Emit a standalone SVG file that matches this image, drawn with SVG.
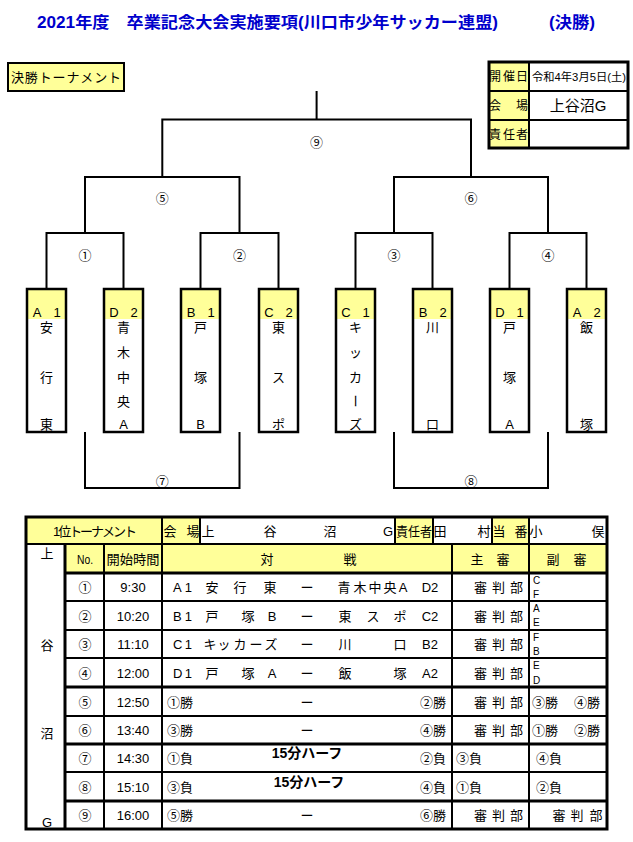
<svg xmlns="http://www.w3.org/2000/svg" width="633" height="842" viewBox="0 0 633 842">
<style>
text{font-family:"Liberation Sans","Noto Sans CJK JP",sans-serif;font-size:13px;fill:#000}
.t{font-size:16px;font-weight:bold;fill:#0000cc}
.c{text-anchor:middle}
.e{text-anchor:end}
.y{fill:#ffff99}
.ln{stroke:#000;stroke-width:2;fill:none}
.bx{fill:none;stroke:#000;stroke-width:2.5}
.s{font-size:11px}
.l{font-size:10px}
.i{font-size:12px}
.b{font-weight:bold;font-size:14px}
.th{stroke:#000;stroke-width:3;fill:none}
</style>
<rect x="0" y="0" width="633" height="842" fill="#fff"/>

<g id="title">
<text class="t" x="37" y="28" textLength="461" lengthAdjust="spacingAndGlyphs">2021年度　卒業記念大会実施要項(川口市少年サッカー連盟)</text>
<text class="t" x="549" y="28" textLength="46" lengthAdjust="spacingAndGlyphs">(決勝)</text>
</g>

<g id="final-label">
<rect x="8" y="63" width="116" height="28" class="y" stroke="#000" stroke-width="2"/>
<text x="11" y="82" textLength="110" lengthAdjust="spacing">決勝トーナメント</text>
</g>

<g id="info-box">
<rect x="489" y="62" width="40" height="86" class="y"/>
<rect x="489" y="62" width="139" height="86" class="th"/>
<line x1="529" y1="62" x2="529" y2="148" class="ln"/>
<line x1="489" y1="91" x2="628" y2="91" class="ln"/>
<line x1="489" y1="120" x2="628" y2="120" class="ln"/>
<text class="i c" x="495" y="81">開</text><text class="i c" x="509" y="81">催</text><text class="i c" x="522" y="81">日</text>
<text class="i c" x="495" y="110">会</text><text class="i c" x="522" y="110">場</text>
<text class="i c" x="495" y="139">責</text><text class="i c" x="509" y="139">任</text><text class="i c" x="522" y="139">者</text>
<text class="s" x="532" y="81" textLength="94" lengthAdjust="spacingAndGlyphs">令和4年3月5日(土)</text>
<text class="c" x="578" y="111" style="font-size:15px">上谷沼G</text>
</g>

<g id="connectors">
<path class="ln" d="M316.6 91V119.5M162.3 177V119.5H471V177M85 233V177H239.5V233M394 233V177H548V233M46.5 290V233H123.5V290M200.5 290V233H278.5V290M355.5 290V233H432.5V290M509.5 290V233H586.5V290M85 432V488H239.5V432M394 432V488H548V432"/>
<text class="c" x="316.6" y="147">⑨</text>
<text class="c" x="162.3" y="203">⑤</text>
<text class="c" x="471" y="203">⑥</text>
<text class="c" x="85" y="260">①</text>
<text class="c" x="239.5" y="260">②</text>
<text class="c" x="394" y="260">③</text>
<text class="c" x="548" y="260">④</text>
<text class="c" x="162.3" y="486">⑦</text>
<text class="c" x="471" y="486">⑧</text>
</g>

<g id="team-A1">
<rect x="27" y="289" width="39" height="30" class="y"/><rect x="27" y="289" width="39" height="143" class="bx"/>
<text class="c" x="37" y="317">A</text><text class="c" x="57" y="317">1</text>
<text class="c" x="46.5" y="332">安</text><text class="c" x="46.5" y="382">行</text><text class="c" x="46.5" y="429">東</text>
</g>
<g id="team-D2">
<rect x="104" y="289" width="39" height="30" class="y"/><rect x="104" y="289" width="39" height="143" class="bx"/>
<text class="c" x="114" y="317">D</text><text class="c" x="134" y="317">2</text>
<text class="c" x="123.5" y="332">青</text><text class="c" x="123.5" y="357">木</text><text class="c" x="123.5" y="382">中</text><text class="c" x="123.5" y="406">央</text><text class="c" x="123.5" y="429">A</text>
</g>
<g id="team-B1">
<rect x="181" y="289" width="39" height="30" class="y"/><rect x="181" y="289" width="39" height="143" class="bx"/>
<text class="c" x="191" y="317">B</text><text class="c" x="211" y="317">1</text>
<text class="c" x="200.5" y="332">戸</text><text class="c" x="200.5" y="382">塚</text><text class="c" x="200.5" y="429">B</text>
</g>
<g id="team-C2">
<rect x="259" y="289" width="39" height="30" class="y"/><rect x="259" y="289" width="39" height="143" class="bx"/>
<text class="c" x="269" y="317">C</text><text class="c" x="289" y="317">2</text>
<text class="c" x="278.5" y="332">東</text><text class="c" x="278.5" y="382">ス</text><text class="c" x="278.5" y="429">ポ</text>
</g>
<g id="team-C1">
<rect x="336" y="289" width="39" height="30" class="y"/><rect x="336" y="289" width="39" height="143" class="bx"/>
<text class="c" x="346" y="317">C</text><text class="c" x="366" y="317">1</text>
<text class="c" x="355.5" y="332">キ</text><text class="c" x="355.5" y="357">ッ</text><text class="c" x="355.5" y="382">カ</text><text class="c" x="355.5" y="406" transform="rotate(90 355.5 401)">ー</text><text class="c" x="355.5" y="429">ズ</text>
</g>
<g id="team-B2">
<rect x="413" y="289" width="39" height="30" class="y"/><rect x="413" y="289" width="39" height="143" class="bx"/>
<text class="c" x="423" y="317">B</text><text class="c" x="443" y="317">2</text>
<text class="c" x="432.5" y="332">川</text><text class="c" x="432.5" y="429">口</text>
</g>
<g id="team-D1">
<rect x="490" y="289" width="39" height="30" class="y"/><rect x="490" y="289" width="39" height="143" class="bx"/>
<text class="c" x="500" y="317">D</text><text class="c" x="520" y="317">1</text>
<text class="c" x="509.5" y="332">戸</text><text class="c" x="509.5" y="382">塚</text><text class="c" x="509.5" y="429">A</text>
</g>
<g id="team-A2">
<rect x="567" y="289" width="39" height="30" class="y"/><rect x="567" y="289" width="39" height="143" class="bx"/>
<text class="c" x="577" y="317">A</text><text class="c" x="597" y="317">2</text>
<text class="c" x="586.5" y="332">飯</text><text class="c" x="586.5" y="429">塚</text>
</g>

<g id="schedule-table">
<rect x="26" y="517" width="136" height="27" class="y"/>
<rect x="162" y="517" width="38" height="27" class="y"/>
<rect x="395" y="517" width="38" height="27" class="y"/>
<rect x="492" y="517" width="37" height="27" class="y"/>
<rect x="65" y="544" width="542" height="29" class="y"/>
<path class="ln" d="M162 517V544M200 517V544M395 517V544M433 517V544M492 517V544M529 517V544M26 544H607M104 544V829M162 544V829M452 544V829M529 544V829M65 601H607M65 630H607M65 658H607M65 716H607M65 772H607"/>
<path class="th" d="M65 544V829M65 573H607M65 687H607M65 744H607M65 801H607"/>
<rect x="26" y="517" width="581" height="312" class="th"/>

<text class="c" x="95" y="535.5" textLength="84" lengthAdjust="spacing">1位トーナメント</text>
<text class="c" x="170" y="535.5">会</text><text class="c" x="193" y="535.5">場</text>
<text class="c" x="208" y="535.5">上</text><text class="c" x="270" y="535.5">谷</text><text class="c" x="330" y="535.5">沼</text><text class="c" x="388" y="535.5">G</text>
<text x="396" y="535.5" textLength="36" lengthAdjust="spacingAndGlyphs">責任者</text>
<text class="c" x="440" y="535.5">田</text><text class="c" x="484" y="535.5">村</text>
<text class="c" x="499" y="535.5">当</text><text class="c" x="521" y="535.5">番</text>
<text class="c" x="536" y="535.5">小</text><text class="c" x="598" y="535.5">俣</text>

<text class="c" x="47" y="558">上</text>
<text class="c" x="47" y="650">谷</text>
<text class="c" x="47" y="738">沼</text>
<text class="c" x="47" y="827">G</text>

<text class="c" x="85" y="563.5" textLength="16" lengthAdjust="spacingAndGlyphs">No.</text>
<text class="c" x="133" y="563.5" textLength="53" lengthAdjust="spacingAndGlyphs">開始時間</text>
<text class="c" x="267" y="563.5">対</text><text class="c" x="350" y="563.5">戦</text>
<text class="c" x="477" y="563.5">主</text><text class="c" x="503" y="563.5">審</text>
<text class="c" x="553" y="563.5">副</text><text class="c" x="580" y="563.5">審</text>

<!-- row 1 -->
<text class="c" x="85" y="592">①</text><text class="c" x="133" y="592">9:30</text>
<text x="173" y="592" textLength="19">A1</text>
<text class="c" x="212" y="592">安</text><text class="c" x="240" y="592">行</text><text class="c" x="270" y="592">東</text>
<text class="c" x="307" y="592">ー</text>
<text class="c" x="344" y="592">青</text><text class="c" x="360" y="592">木</text><text class="c" x="375" y="592">中</text><text class="c" x="390" y="592">央</text><text class="c" x="403" y="592">A</text>
<text class="c" x="430" y="592">D2</text>
<text class="c" x="480.5" y="592">審</text><text class="c" x="498.5" y="592">判</text><text class="c" x="516.5" y="592">部</text>
<text class="l" x="533" y="584">C</text><text class="l" x="533" y="598">F</text>
<!-- row 2 -->
<text class="c" x="85" y="620.5">②</text><text class="c" x="133" y="620.5">10:20</text>
<text x="173" y="620.5" textLength="19">B1</text>
<text class="c" x="212" y="620.5">戸</text><text class="c" x="248" y="620.5">塚</text><text class="c" x="272" y="620.5">B</text>
<text class="c" x="307" y="620.5">ー</text>
<text class="c" x="345" y="620.5">東</text><text class="c" x="373" y="620.5">ス</text><text class="c" x="400" y="620.5">ポ</text>
<text class="c" x="430" y="620.5">C2</text>
<text class="c" x="480.5" y="620.5">審</text><text class="c" x="498.5" y="620.5">判</text><text class="c" x="516.5" y="620.5">部</text>
<text class="l" x="533" y="612">A</text><text class="l" x="533" y="626">E</text>
<!-- row 3 -->
<text class="c" x="85" y="649">③</text><text class="c" x="133" y="649">11:10</text>
<text x="173" y="649" textLength="19">C1</text>
<text class="c" x="210" y="649">キ</text><text class="c" x="224" y="649">ッ</text><text class="c" x="240" y="649">カ</text><text class="c" x="256" y="649">ー</text><text class="c" x="271" y="649">ズ</text>
<text class="c" x="307" y="649">ー</text>
<text class="c" x="345" y="649">川</text><text class="c" x="400" y="649">口</text>
<text class="c" x="430" y="649">B2</text>
<text class="c" x="480.5" y="649">審</text><text class="c" x="498.5" y="649">判</text><text class="c" x="516.5" y="649">部</text>
<text class="l" x="533" y="641">F</text><text class="l" x="533" y="655">B</text>
<!-- row 4 -->
<text class="c" x="85" y="677.5">④</text><text class="c" x="133" y="677.5">12:00</text>
<text x="173" y="677.5" textLength="19">D1</text>
<text class="c" x="212" y="677.5">戸</text><text class="c" x="248" y="677.5">塚</text><text class="c" x="272" y="677.5">A</text>
<text class="c" x="307" y="677.5">ー</text>
<text class="c" x="345" y="677.5">飯</text><text class="c" x="400" y="677.5">塚</text>
<text class="c" x="430" y="677.5">A2</text>
<text class="c" x="480.5" y="677.5">審</text><text class="c" x="498.5" y="677.5">判</text><text class="c" x="516.5" y="677.5">部</text>
<text class="l" x="533" y="669">E</text><text class="l" x="533" y="684">D</text>
<!-- row 5 -->
<text class="c" x="85" y="706.5">⑤</text><text class="c" x="133" y="706.5">12:50</text>
<text x="167" y="706.5">①勝</text><text class="c" x="307" y="706.5">ー</text><text class="e" x="446" y="706.5">②勝</text>
<text class="c" x="480.5" y="706.5">審</text><text class="c" x="498.5" y="706.5">判</text><text class="c" x="516.5" y="706.5">部</text>
<text x="532" y="706.5">③勝</text><text x="574" y="706.5">④勝</text>
<!-- row 6 -->
<text class="c" x="85" y="735">⑥</text><text class="c" x="133" y="735">13:40</text>
<text x="167" y="735">③勝</text><text class="c" x="307" y="735">ー</text><text class="e" x="446" y="735">④勝</text>
<text class="c" x="480.5" y="735">審</text><text class="c" x="498.5" y="735">判</text><text class="c" x="516.5" y="735">部</text>
<text x="532" y="735">①勝</text><text x="574" y="735">②勝</text>
<!-- row 7 -->
<text class="c" x="85" y="763">⑦</text><text class="c" x="133" y="763">14:30</text>
<text x="167" y="763">①負</text><text class="b c" x="307" y="758">15分ハーフ</text><text class="e" x="446" y="763">②負</text>
<text x="456" y="763">③負</text><text x="536" y="763">④負</text>
<!-- row 8 -->
<text class="c" x="85" y="791.5">⑧</text><text class="c" x="133" y="791.5">15:10</text>
<text x="167" y="791.5">③負</text><text class="b c" x="309" y="787">15分ハーフ</text><text class="e" x="446" y="791.5">④負</text>
<text x="456" y="791.5">①負</text><text x="536" y="791.5">②負</text>
<!-- row 9 -->
<text class="c" x="85" y="820">⑨</text><text class="c" x="133" y="820">16:00</text>
<text x="167" y="820">⑤勝</text><text class="c" x="307" y="820">ー</text><text class="e" x="446" y="820">⑥勝</text>
<text class="c" x="480.5" y="820">審</text><text class="c" x="498.5" y="820">判</text><text class="c" x="516.5" y="820">部</text>
<text class="c" x="559" y="820">審</text><text class="c" x="577" y="820">判</text><text class="c" x="596" y="820">部</text>
</g>
</svg>
